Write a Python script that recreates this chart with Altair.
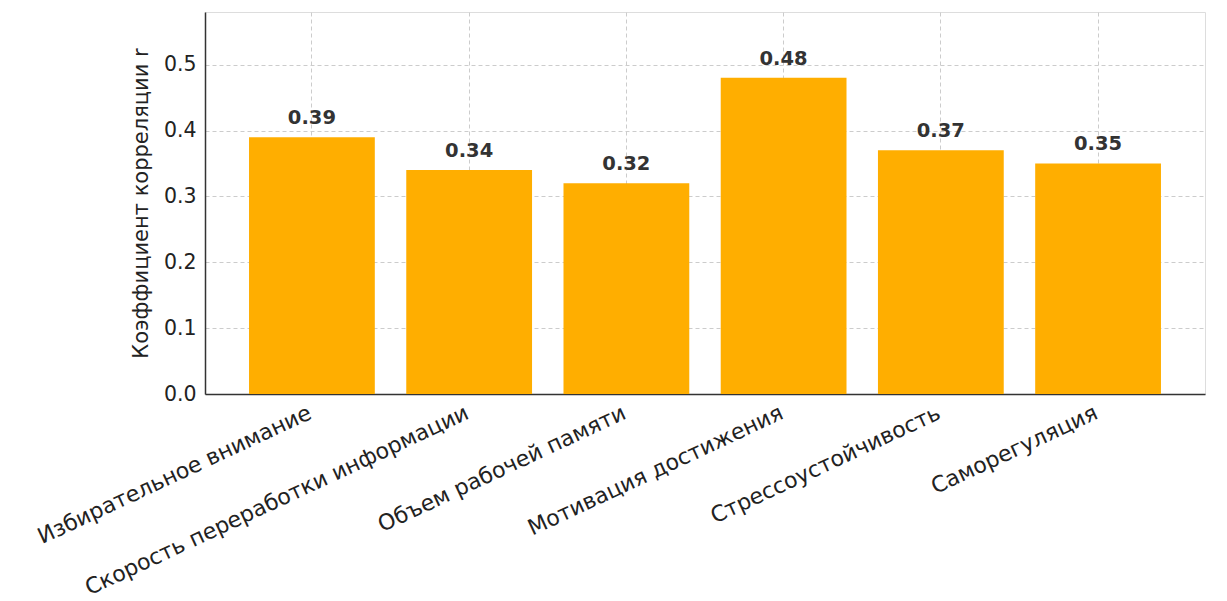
import altair as alt
import pandas as pd

categories = [
    "Избирательное внимание",
    "Скорость переработки информации",
    "Объем рабочей памяти",
    "Мотивация достижения",
    "Стрессоустойчивость",
    "Саморегуляция",
]
values = [0.39, 0.34, 0.32, 0.48, 0.37, 0.35]
labels = ["0.39", "0.34", "0.32", "0.48", "0.37", "0.35"]

df = pd.DataFrame({"cat": categories, "r": values, "lbl": labels})

FONT = "DejaVu Sans"

x = alt.X(
    "cat:N",
    sort=categories,
    title=None,
    scale=alt.Scale(paddingInner=0.2, paddingOuter=0.28),
    axis=alt.Axis(
        labelAngle=-25,
        labelAlign="right",
        labelBaseline="top",
        labelFontSize=22,
        labelFont=FONT,
        labelColor="#222222",
        labelPadding=8,
        labelOffset=-6,
        labelLimit=600,
        grid=True,
        bandPosition=0.5,
        gridDash=[4, 3],
        gridColor="#cccccc",
        domainColor="#333333",
        domainWidth=1.5,
        tickColor="#333333",
        tickSize=0,
    ),
)
y = alt.Y(
    "r:Q",
    title="Коэффициент корреляции r",
    scale=alt.Scale(domain=[0, 0.58], nice=False, zero=True),
    axis=alt.Axis(
        values=[0, 0.1, 0.2, 0.3, 0.4, 0.5],
        format=".1f",
        labelFontSize=20.5,
        labelFont=FONT,
        labelColor="#222222",
        labelPadding=9,
        titleFontSize=21,
        titleFont=FONT,
        titleFontWeight="normal",
        titleColor="#222222",
        titlePadding=12,
        gridDash=[4, 3],
        gridColor="#cccccc",
        domainColor="#333333",
        domainWidth=1.5,
        tickSize=0,
    ),
)

bars = alt.Chart(df).mark_bar(color="#FFAE00").encode(x=x, y=y)
text = alt.Chart(df).mark_text(
    baseline="bottom", dy=-9, fontSize=19.5, fontWeight="bold", font=FONT, color="#333333"
).encode(x=alt.X("cat:N", sort=categories), y="r:Q", text="lbl:N")

chart = (
    (bars + text)
    .properties(
        width=1000,
        height=382,
        autosize=alt.AutoSizeParams(type="none"),
        padding={"left": 205, "top": 12, "right": 22, "bottom": 207},
    )
    .configure_view(stroke=None)
    .configure(background="white")
)

chart.save("out.html", embed_options={"renderer": "svg", "actions": False})
